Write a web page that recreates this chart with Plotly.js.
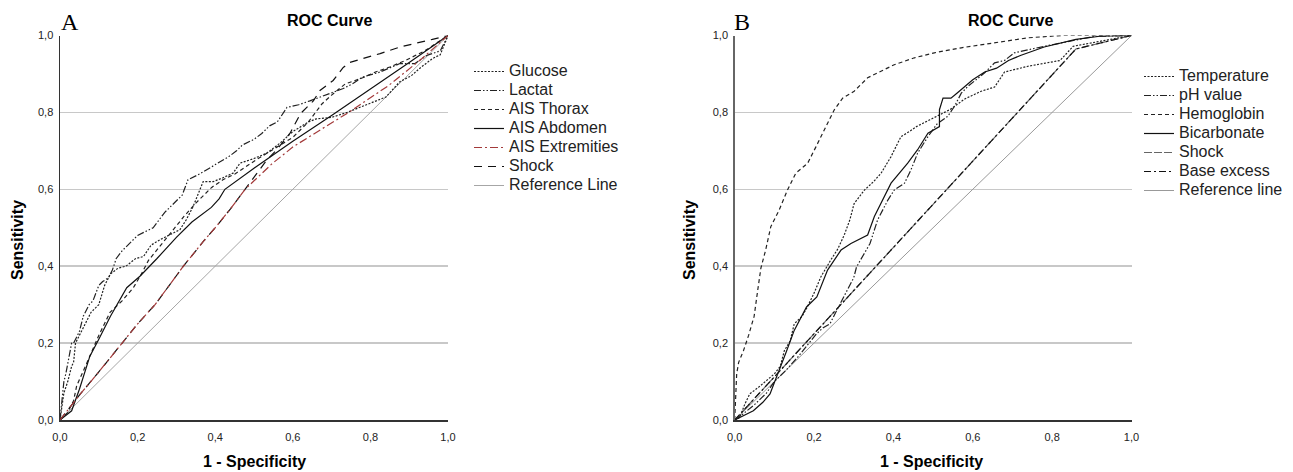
<!DOCTYPE html>
<html>
<head>
<meta charset="utf-8">
<script src="https://cdn.plot.ly/plotly-3.0.1.min.js"></script>
<style>html,body{margin:0;padding:0;background:#fff;}#chart{width:1293px;height:472px;}</style>
</head>
<body>
<div id="chart"></div>
<script>
// ---------- tick labels ----------
const tickVals = [0, 0.2, 0.4, 0.6, 0.8, 1.0];
const tickText = ['0,0', '0,2', '0,4', '0,6', '0,8', '1,0'];

// ---------- Panel A ----------
const glucoseX = [0, 0.005, 0.01, 0.02, 0.03, 0.035, 0.04, 0.06, 0.08, 0.1, 0.115, 0.13, 0.15, 0.17, 0.195, 0.215, 0.235, 0.26, 0.28, 0.309, 0.325, 0.343, 0.369, 0.395, 0.42, 0.446, 0.464, 0.5, 0.533, 0.567, 0.6, 0.64, 0.66, 0.7, 0.74, 0.79, 0.84, 0.876, 0.905, 0.93, 0.96, 0.98, 1];
const glucoseY = [0, 0.03, 0.07, 0.1, 0.14, 0.15, 0.2, 0.24, 0.28, 0.3, 0.35, 0.38, 0.395, 0.4, 0.42, 0.425, 0.455, 0.47, 0.48, 0.495, 0.52, 0.555, 0.62, 0.62, 0.63, 0.642, 0.668, 0.68, 0.694, 0.72, 0.75, 0.775, 0.783, 0.787, 0.8, 0.82, 0.84, 0.88, 0.895, 0.917, 0.94, 0.95, 1];

const lactatX = [0, 0.005, 0.01, 0.015, 0.02, 0.03, 0.035, 0.05, 0.06, 0.075, 0.085, 0.1, 0.11, 0.125, 0.135, 0.145, 0.16, 0.185, 0.2, 0.22, 0.24, 0.27, 0.29, 0.315, 0.33, 0.36, 0.385, 0.41, 0.435, 0.455, 0.47, 0.5, 0.52, 0.54, 0.56, 0.585, 0.615, 0.644, 0.67, 0.7, 0.73, 0.755, 0.78, 0.825, 0.876, 0.915, 0.945, 0.98, 1];
const lactatY = [0, 0.06, 0.1, 0.12, 0.15, 0.2, 0.2, 0.23, 0.27, 0.3, 0.31, 0.35, 0.36, 0.37, 0.39, 0.42, 0.44, 0.465, 0.48, 0.49, 0.5, 0.54, 0.56, 0.585, 0.625, 0.64, 0.655, 0.67, 0.685, 0.7, 0.715, 0.73, 0.745, 0.765, 0.775, 0.813, 0.82, 0.83, 0.84, 0.85, 0.862, 0.875, 0.892, 0.905, 0.927, 0.927, 0.948, 0.96, 1];

const thoraxX = [0, 0.02, 0.035, 0.043, 0.07, 0.1, 0.129, 0.16, 0.189, 0.21, 0.228, 0.26, 0.288, 0.32, 0.348, 0.391, 0.42, 0.451, 0.503, 0.55, 0.6, 0.64, 0.675, 0.7, 0.735, 0.78, 0.813, 0.85, 0.89, 0.94, 1];
const thoraxY = [0, 0.02, 0.05, 0.089, 0.15, 0.22, 0.28, 0.31, 0.344, 0.38, 0.415, 0.455, 0.493, 0.53, 0.562, 0.605, 0.625, 0.64, 0.675, 0.705, 0.735, 0.775, 0.822, 0.845, 0.874, 0.89, 0.905, 0.918, 0.935, 0.96, 1];

const abdomenX = [0, 0.03, 0.05, 0.077, 0.1, 0.13, 0.172, 0.206, 0.25, 0.3, 0.34, 0.39, 0.41, 0.425, 0.5, 0.6, 0.7, 0.8, 0.9, 1];
const abdomenY = [0, 0.024, 0.08, 0.166, 0.21, 0.27, 0.344, 0.374, 0.42, 0.475, 0.515, 0.553, 0.575, 0.6, 0.655, 0.725, 0.792, 0.86, 0.93, 1];

const extremX = [0, 0.052, 0.1, 0.159, 0.2, 0.245, 0.318, 0.37, 0.4, 0.44, 0.477, 0.546, 0.6, 0.675, 0.744, 0.847, 0.933, 1];
const extremY = [0, 0.067, 0.125, 0.2, 0.25, 0.3, 0.4, 0.465, 0.5, 0.55, 0.6, 0.666, 0.71, 0.757, 0.8, 0.87, 0.94, 1];

const shockAX = [0, 0.052, 0.1, 0.159, 0.2, 0.245, 0.318, 0.37, 0.4, 0.44, 0.477, 0.533, 0.558, 0.593, 0.62, 0.653, 0.67, 0.704, 0.73, 0.747, 0.825, 0.876, 0.96, 1];
const shockAY = [0, 0.067, 0.125, 0.2, 0.25, 0.3, 0.4, 0.465, 0.5, 0.55, 0.6, 0.676, 0.702, 0.746, 0.797, 0.83, 0.857, 0.883, 0.917, 0.93, 0.953, 0.97, 0.99, 1];

const referenceX = [0, 1];
const referenceY = [0, 1];

// ---------- Panel B ----------
const temperatureX = [0, 0.013, 0.025, 0.038, 0.06, 0.089, 0.1, 0.115, 0.125, 0.14, 0.15, 0.17, 0.183, 0.2, 0.217, 0.242, 0.26, 0.276, 0.29, 0.301, 0.327, 0.35, 0.369, 0.394, 0.419, 0.44, 0.458, 0.492, 0.542, 0.58, 0.621, 0.655, 0.68, 0.739, 0.82, 0.853, 0.92, 0.97, 1];
const temperatureY = [0, 0.007, 0.04, 0.068, 0.085, 0.11, 0.12, 0.14, 0.18, 0.206, 0.25, 0.27, 0.294, 0.33, 0.372, 0.416, 0.445, 0.481, 0.52, 0.563, 0.598, 0.62, 0.642, 0.685, 0.737, 0.75, 0.763, 0.781, 0.807, 0.835, 0.855, 0.866, 0.905, 0.92, 0.935, 0.972, 0.985, 0.994, 1];

const phX = [0, 0.02, 0.05, 0.08, 0.1, 0.13, 0.16, 0.206, 0.223, 0.24, 0.257, 0.274, 0.29, 0.3, 0.307, 0.325, 0.341, 0.36, 0.386, 0.402, 0.428, 0.444, 0.461, 0.487, 0.51, 0.537, 0.554, 0.571, 0.588, 0.63, 0.655, 0.68, 0.705, 0.781, 0.865, 0.907, 1];
const phY = [0, 0.015, 0.04, 0.07, 0.1, 0.13, 0.165, 0.224, 0.24, 0.25, 0.285, 0.32, 0.35, 0.37, 0.398, 0.43, 0.459, 0.52, 0.572, 0.598, 0.616, 0.65, 0.694, 0.737, 0.77, 0.79, 0.816, 0.85, 0.868, 0.903, 0.929, 0.935, 0.955, 0.972, 0.99, 0.998, 1];

const hemoglobinX = [0, 0.005, 0.01, 0.022, 0.035, 0.049, 0.057, 0.066, 0.078, 0.091, 0.112, 0.133, 0.154, 0.184, 0.205, 0.226, 0.251, 0.272, 0.301, 0.335, 0.377, 0.402, 0.453, 0.503, 0.571, 0.655, 0.739, 0.823, 1];
const hemoglobinY = [0, 0.12, 0.15, 0.18, 0.22, 0.27, 0.33, 0.395, 0.442, 0.503, 0.546, 0.598, 0.642, 0.668, 0.711, 0.755, 0.807, 0.837, 0.855, 0.89, 0.911, 0.924, 0.942, 0.955, 0.968, 0.981, 0.994, 1, 1];

const bicarbX = [0, 0.022, 0.047, 0.071, 0.089, 0.101, 0.114, 0.131, 0.15, 0.181, 0.207, 0.234, 0.268, 0.293, 0.335, 0.352, 0.394, 0.436, 0.461, 0.487, 0.516, 0.516, 0.525, 0.545, 0.56, 0.6, 0.63, 0.66, 0.69, 0.72, 0.78, 0.86, 0.92, 1];
const bicarbY = [0, 0.011, 0.024, 0.046, 0.068, 0.1, 0.137, 0.18, 0.233, 0.294, 0.32, 0.39, 0.442, 0.459, 0.481, 0.529, 0.616, 0.668, 0.703, 0.746, 0.763, 0.807, 0.837, 0.837, 0.85, 0.885, 0.905, 0.915, 0.935, 0.948, 0.97, 0.99, 0.998, 1];

const shockBX = [0, 0.86, 1];
const shockBY = [0, 0.965, 1];

const baseExcessX = [0, 0.86, 1];
const baseExcessY = [0, 0.965, 1];

// ---------- helpers (layout only) ----------
const W = 1293, H = 472;
const px = v => v / W;
const py = v => 1 - v / H;
const FONT = 'Liberation Sans, Arial, sans-serif';

function tr(x, y, name, dash, color, width, ax, leg) {
  return {
    type: 'scatter', mode: 'lines', x: x, y: y, name: name,
    xaxis: ax[0], yaxis: ax[1], legend: leg,
    line: {color: color, width: width, dash: dash, shape: 'linear'},
    hoverinfo: 'skip'
  };
}
const A = ['x', 'y'], B = ['x2', 'y2'];
const DOT = '2px,1.5px', DDD = '7px,2px,1.5px,2px,1.5px,2px', DASH = '4px,3px';

const data = [
  tr(referenceX, referenceY, 'Reference Line', 'solid', '#a6a6a6', 1, A, 'legend'),
  tr(glucoseX, glucoseY, 'Glucose', DOT, '#222', 1.2, A, 'legend'),
  tr(lactatX, lactatY, 'Lactat', DDD, '#222', 1.2, A, 'legend'),
  tr(thoraxX, thoraxY, 'AIS Thorax', DASH, '#222', 1.2, A, 'legend'),
  tr(abdomenX, abdomenY, 'AIS Abdomen', 'solid', '#111', 1.2, A, 'legend'),
  tr(shockAX, shockAY, 'Shock', '8px,6px', '#111', 1.2, A, 'legend'),
  tr(extremX, extremY, 'AIS Extremities', '8px,3px,2px,3px', '#a33a3a', 1.2, A, 'legend'),

  tr(referenceX, referenceY, 'Reference line', 'solid', '#999999', 1, B, 'legend2'),
  tr(temperatureX, temperatureY, 'Temperature', DOT, '#222', 1.2, B, 'legend2'),
  tr(phX, phY, 'pH value', DDD, '#222', 1.2, B, 'legend2'),
  tr(hemoglobinX, hemoglobinY, 'Hemoglobin', DASH, '#222', 1.2, B, 'legend2'),
  tr(bicarbX, bicarbY, 'Bicarbonate', 'solid', '#111', 1.2, B, 'legend2'),
  tr(shockBX, shockBY, 'Shock', '8px,2px', '#666', 1.2, B, 'legend2'),
  tr(baseExcessX, baseExcessY, 'Base excess', '7px,3px,2px,3px', '#111', 1.2, B, 'legend2')
];
// legend order as in the reference
const orderA = ['Glucose', 'Lactat', 'AIS Thorax', 'AIS Abdomen', 'AIS Extremities', 'Shock', 'Reference Line'];
const orderB = ['Temperature', 'pH value', 'Hemoglobin', 'Bicarbonate', 'Shock', 'Base excess', 'Reference line'];
data.forEach(t => {
  const ord = t.legend === 'legend' ? orderA : orderB;
  t.legendrank = ord.indexOf(t.name) + 1;
  // larger visible text, compact row spacing
  t.name = '<span style="font-size:16px">' + t.name + '</span>';
});

function xax(dom, anchor) {
  return {
    domain: dom, range: [0, 1], anchor: anchor, showgrid: false, zeroline: false,
    showline: true, linecolor: '#333', linewidth: 1.5, ticks: '',
    tickmode: 'array', tickvals: tickVals, ticktext: tickText,
    tickfont: {family: FONT, size: 11, color: '#222'}, ticklabelstandoff: 6, fixedrange: true
  };
}
function yax(anchor, lc) {
  return {
    domain: [py(420), py(35.5)], range: [0, 1], anchor: anchor,
    showgrid: true, gridcolor: '#c8c8c8', gridwidth: 1.5, zeroline: false,
    showline: true, linecolor: lc, linewidth: 1.5, ticks: '',
    tickmode: 'array', tickvals: tickVals, ticktext: tickText,
    tickfont: {family: FONT, size: 11, color: '#222'}, ticklabelstandoff: 3, fixedrange: true
  };
}

function ann(text, x, y, size, opts) {
  return Object.assign({
    text: text, xref: 'paper', yref: 'paper', x: px(x), y: py(y),
    xanchor: 'center', yanchor: 'middle', showarrow: false,
    font: {family: FONT, size: size, color: '#000'}
  }, opts || {});
}

const layout = {
  width: W, height: H,
  margin: {l: 0, r: 0, t: 0, b: 0},
  paper_bgcolor: '#fff', plot_bgcolor: '#fff',
  showlegend: true,
  xaxis: xax([px(60), px(448)], 'y'),
  yaxis: yax('x', '#333'),
  xaxis2: xax([px(734.7), px(1131.5)], 'y2'),
  yaxis2: yax('x2', '#666'),
  legend: {x: px(469), y: py(57), xanchor: 'left', yanchor: 'top', bgcolor: 'rgba(0,0,0,0)',
           font: {family: FONT, size: 12, color: '#222'}, itemwidth: 30, tracegroupgap: 0},
  legend2: {x: px(1139), y: py(62), xanchor: 'left', yanchor: 'top', bgcolor: 'rgba(0,0,0,0)',
            font: {family: FONT, size: 12, color: '#222'}, itemwidth: 30, tracegroupgap: 0},
  shapes: [
    {type: 'line', xref: 'x2', yref: 'y2', x0: 0.003, x1: 0.51, y0: 1, y1: 1, layer: 'between',
     line: {color: '#fff', width: 3}}
  ],
  annotations: [
    ann('A', 59, 22, 24, {xanchor: 'left', font: {family: 'Liberation Serif, Times New Roman, serif', size: 24, color: '#000'}}),
    ann('B', 732, 22, 24, {xanchor: 'left', font: {family: 'Liberation Serif, Times New Roman, serif', size: 24, color: '#000'}}),
    ann('<b>ROC Curve</b>', 329, 21, 16),
    ann('<b>ROC Curve</b>', 1010, 21, 16),
    ann('<b>Sensitivity</b>', 17, 240, 16, {textangle: -90}),
    ann('<b>Sensitivity</b>', 689, 240, 16, {textangle: -90}),
    ann('<b>1 - Specificity</b>', 254, 461, 16),
    ann('<b>1 - Specificity</b>', 932, 461, 16)
  ]
};

Plotly.newPlot('chart', data, layout, {displayModeBar: false, staticPlot: true});
</script>
</body>
</html>
